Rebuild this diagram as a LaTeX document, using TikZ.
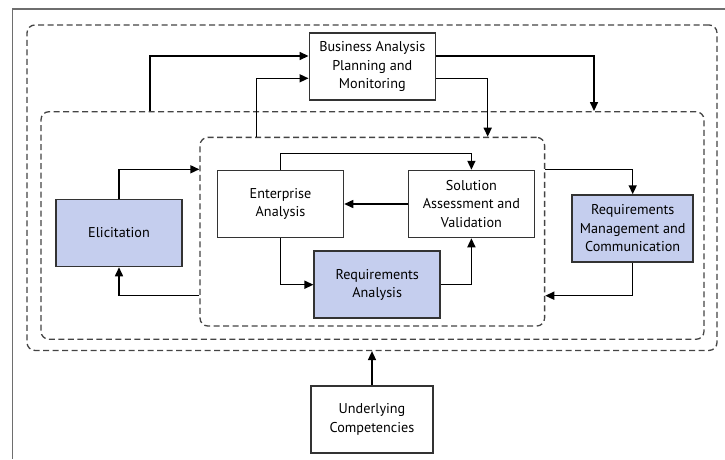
\documentclass[tikz,border=0pt]{standalone}
\usepackage{fontspec}
\setmainfont{PT Sans}
\definecolor{boxline}{HTML}{333333}
\definecolor{areablue}{HTML}{C5CEEE}
\definecolor{dashgray}{HTML}{444444}
\definecolor{framegray}{HTML}{6E6E6E}
\usetikzlibrary{arrows.meta, positioning, calc}
\tikzset{
  box/.style={
    draw=boxline, fill=#1, line width=1.5pt,
    minimum width=126pt, minimum height=67pt, inner sep=1pt,
    font=\fontsize{14.2}{18.5}\selectfont, align=center
  },
  box/.default=white,
  region/.style={
    draw=dashgray, line width=1.3pt, dash pattern=on 6pt off 3.5pt,
    rounded corners=8pt, inner sep=0pt
  },
  arr/.style={-{Triangle[length=9pt,width=8pt]}, line width=1.5pt, color=black},
}

\begin{document}
\begin{tikzpicture}[x=1pt, y=-1pt]
  \useasboundingbox (0,0) rectangle (725,459);
  % frame
  \draw[framegray, line width=1.5pt] (12.3,459) -- (12.3,9) -- (725,9);

  % dashed areas
  \node[region, minimum width=690pt, minimum height=325.5pt] (outer) at (372,187.7) {};
  \node[region, minimum width=663pt, minimum height=227.6pt] (mid) at (372.5,225.5) {};
  \node[region, minimum width=344.6pt, minimum height=188.7pt] (inner) at (372.3,231.7) {};

  % knowledge areas
  \node[box] (bapm) at (372.3,66.7) {Business Analysis\\Planning and\\Monitoring};
  \node[box] (ea) at (280.5,204) {Enterprise\\Analysis};
  \node[box] (sav) at (471.4,204) {Solution\\Assessment and\\Validation};
  \node[box=areablue] (ra) at (377.2,284.7) {Requirements\\Analysis};
  \node[box=areablue] (elic) at (119,233) {Elicitation};
  \node[box=areablue, minimum width=121pt] (rmc) at (632.7,228.5) {Requirements\\Management and\\Communication};
  \node[box, minimum width=122pt] (uc) at (372,419.3) {Underlying\\Competencies};

  % bend points
  \coordinate (j1) at (150,56);
  \coordinate (j2) at (256.6,78.3);
  \coordinate (j3) at (594,56);
  \coordinate (j4) at (487.7,78.3);
  \coordinate (j5) at (119,169.3);
  \coordinate (j6) at (119,295.7);

  % planning links
  \draw[arr] (mid.north -| j1) |- (bapm.west |- j1);
  \draw[arr] (inner.north -| j2) |- (bapm.west |- j2);
  \draw[arr] (bapm.east |- j3) -| (mid.north -| j3);
  \draw[arr] (bapm.east |- j4) -| (inner.north -| j4);

  % inner cycle
  \draw[arr] (ea.north) -- ++(0,-16.4) -| (sav.north);
  \draw[arr] (sav.west) -- (ea.east);
  \draw[arr] (ea.south) |- (ra.west);
  \draw[arr] (ra.east) -| (sav.south);

  % outer links
  \draw[arr] (elic.north) |- (inner.west |- j5);
  \draw[arr] (inner.east |- j5) -| (rmc.north);
  \draw[arr] (rmc.south) |- (inner.east |- j6);
  \draw[arr] (inner.west |- j6) -| (elic.south);
  \draw[arr] (uc.north) -- (outer.south);
\end{tikzpicture}
\end{document}
